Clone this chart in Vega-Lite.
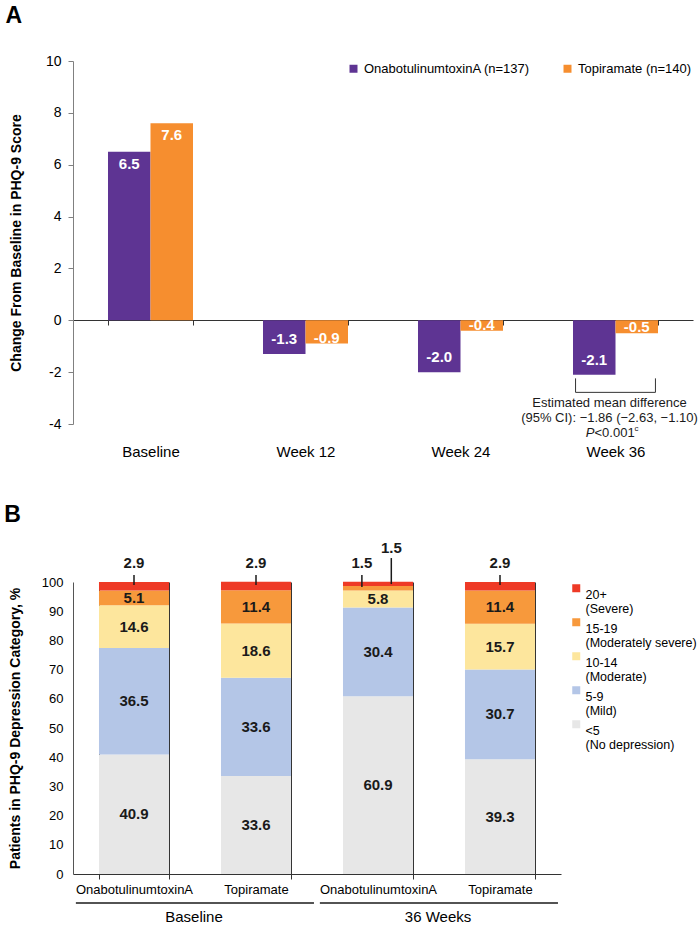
{
  "$schema": "https://vega.github.io/schema/vega-lite/v6.json",
  "padding": {"left": 4, "top": 5, "right": 0, "bottom": 0},
  "background": "white",
  "spacing": 44,
  "resolve": {"scale": {"color": "independent", "x": "independent", "y": "independent"}, "legend": {"color": "independent"}},
  "config": {"font": "Liberation Sans", "view": {"stroke": null}, "axis": {"labelColor": "#000", "titleColor": "#000"}},
  "vconcat": [
    {
      "title": {"text": "A", "anchor": "start", "frame": "bounds", "fontSize": 23, "fontWeight": "bold", "color": "#000", "offset": 26, "dx": -4},
      "width": 620,
      "height": 363,
      "data": {"values": [
        {"week": "Baseline", "trt": "OnabotulinumtoxinA (n=137)", "v": 6.5, "lab": "6.5"},
        {"week": "Baseline", "trt": "Topiramate (n=140)", "v": 7.6, "lab": "7.6"},
        {"week": "Week 12", "trt": "OnabotulinumtoxinA (n=137)", "v": -1.3, "lab": "-1.3"},
        {"week": "Week 12", "trt": "Topiramate (n=140)", "v": -0.9, "lab": "-0.9"},
        {"week": "Week 24", "trt": "OnabotulinumtoxinA (n=137)", "v": -2.0, "lab": "-2.0"},
        {"week": "Week 24", "trt": "Topiramate (n=140)", "v": -0.4, "lab": "-0.4"},
        {"week": "Week 36", "trt": "OnabotulinumtoxinA (n=137)", "v": -2.1, "lab": "-2.1"},
        {"week": "Week 36", "trt": "Topiramate (n=140)", "v": -0.5, "lab": "-0.5"}
      ]},
      "encoding": {
        "x": {"field": "week", "type": "nominal", "title": null,
          "scale": {"domain": ["Baseline", "Week 12", "Week 24", "Week 36"], "paddingInner": 0.4516, "paddingOuter": 0.2258},
          "axis": {"orient": "bottom", "offset": -104, "labelAngle": 0, "labelFontSize": 15, "labelPadding": 119, "tickBand": "extent", "tickSize": 5, "tickColor": "#333", "domainColor": "#333", "grid": false}},
        "y": {"field": "v", "type": "quantitative", "title": "Change From Baseline in PHQ-9 Score",
          "scale": {"domain": [-4, 10], "nice": false, "zero": false},
          "axis": {"values": [-4, -2, 0, 2, 4, 6, 8, 10], "labelExpr": "'' + datum.value", "labelOverlap": false, "titleFontSize": 14, "titleFontWeight": "bold", "titlePadding": 22, "labelFontSize": 14, "labelPadding": 7, "tickSize": 5, "tickColor": "#808080", "domainColor": "#808080", "grid": false}}
      },
      "layer": [
        {
          "mark": {"type": "bar"},
          "encoding": {
            "xOffset": {"field": "trt", "type": "nominal", "scale": {"paddingInner": 0, "paddingOuter": 0}},
            "color": {"field": "trt", "type": "nominal",
              "scale": {"domain": ["OnabotulinumtoxinA (n=137)", "Topiramate (n=140)"], "range": ["#5E3493", "#F68E2F"]},
              "legend": {"title": null, "orient": "top-right", "direction": "horizontal", "offset": 1, "padding": 0, "labelFontSize": 13, "labelColor": "#000", "labelLimit": 300, "symbolType": "square", "symbolSize": 64, "symbolStrokeWidth": 0, "columnPadding": 31, "labelOffset": 4}}
          }
        },
        {
          "transform": [{"filter": "datum.v > 0"}],
          "mark": {"type": "text", "dy": 12, "color": "white", "fontWeight": "bold", "fontSize": 15},
          "encoding": {"xOffset": {"field": "trt", "type": "nominal"}, "text": {"field": "lab"}}
        },
        {
          "transform": [{"filter": "datum.v < 0 && datum.trt == 'OnabotulinumtoxinA (n=137)'"}],
          "mark": {"type": "text", "dy": -15, "color": "white", "fontWeight": "bold", "fontSize": 15},
          "encoding": {"xOffset": {"field": "trt", "type": "nominal"}, "text": {"field": "lab"}}
        },
        {
          "transform": [{"filter": "datum.v < 0 && datum.trt == 'Topiramate (n=140)'"}],
          "mark": {"type": "text", "dy": -6, "color": "white", "fontWeight": "bold", "fontSize": 15},
          "encoding": {"xOffset": {"field": "trt", "type": "nominal"}, "text": {"field": "lab"}}
        },
        {
          "transform": [{"filter": "datum.week == 'Week 36' && datum.trt == 'Topiramate (n=140)'"}],
          "mark": {"type": "rule", "color": "#333", "strokeWidth": 1},
          "encoding": {"x": {"field": "week", "type": "nominal", "bandPosition": 0.03}, "y": {"datum": -2.24}, "y2": {"datum": -2.78}}
        },
        {
          "transform": [{"filter": "datum.week == 'Week 36' && datum.trt == 'Topiramate (n=140)'"}],
          "mark": {"type": "rule", "color": "#333", "strokeWidth": 1},
          "encoding": {"x": {"field": "week", "type": "nominal", "bandPosition": 0.97}, "y": {"datum": -2.24}, "y2": {"datum": -2.78}}
        },
        {
          "transform": [{"filter": "datum.week == 'Week 36' && datum.trt == 'Topiramate (n=140)'"}],
          "mark": {"type": "rule", "color": "#333", "strokeWidth": 1},
          "encoding": {"x": {"field": "week", "type": "nominal", "bandPosition": 0.03}, "x2": {"field": "week", "bandPosition": 0.97}, "y": {"datum": -2.78}}
        },
        {
          "transform": [{"filter": "datum.week == 'Week 36' && datum.trt == 'Topiramate (n=140)'"}],
          "mark": {"type": "text", "fontSize": 13, "color": "#1a1a1a", "dx": -6},
          "encoding": {"y": {"datum": -3.2}, "text": {"value": "Estimated mean difference"}}
        },
        {
          "transform": [{"filter": "datum.week == 'Week 36' && datum.trt == 'Topiramate (n=140)'"}],
          "mark": {"type": "text", "fontSize": 13, "color": "#1a1a1a", "dx": -6},
          "encoding": {"y": {"datum": -3.78}, "text": {"value": "(95% CI): \u22121.86 (\u22122.63, \u22121.10)"}}
        },
        {
          "transform": [{"filter": "datum.week == 'Week 36' && datum.trt == 'Topiramate (n=140)'"}],
          "mark": {"type": "text", "fontSize": 13, "color": "#1a1a1a", "align": "right", "fontStyle": "italic", "dx": -21},
          "encoding": {"y": {"datum": -4.33}, "text": {"value": "P"}}
        },
        {
          "transform": [{"filter": "datum.week == 'Week 36' && datum.trt == 'Topiramate (n=140)'"}],
          "mark": {"type": "text", "fontSize": 13, "color": "#1a1a1a", "align": "left", "dx": -21},
          "encoding": {"y": {"datum": -4.33}, "text": {"value": "<0.001"}}
        },
        {
          "transform": [{"filter": "datum.week == 'Week 36' && datum.trt == 'Topiramate (n=140)'"}],
          "mark": {"type": "text", "fontSize": 8, "color": "#1a1a1a", "align": "left", "dx": 19, "dy": -4},
          "encoding": {"y": {"datum": -4.33}, "text": {"value": "c"}}
        }
      ]
    },
    {
      "title": {"text": "B", "anchor": "start", "frame": "bounds", "fontSize": 23, "fontWeight": "bold", "color": "#000", "offset": 14, "dx": -4},
      "width": 488,
      "height": 292,
      "data": {"values": [
        {"bar": "Baseline|OnabotulinumtoxinA", "period": "Baseline", "cat": "<5", "rank": 1, "v": 40.9},
        {"bar": "Baseline|OnabotulinumtoxinA", "period": "Baseline", "cat": "5-9", "rank": 2, "v": 36.5},
        {"bar": "Baseline|OnabotulinumtoxinA", "period": "Baseline", "cat": "10-14", "rank": 3, "v": 14.6},
        {"bar": "Baseline|OnabotulinumtoxinA", "period": "Baseline", "cat": "15-19", "rank": 4, "v": 5.1},
        {"bar": "Baseline|OnabotulinumtoxinA", "period": "Baseline", "cat": "20+", "rank": 5, "v": 2.9},
        {"bar": "Baseline|Topiramate", "period": "Baseline", "cat": "<5", "rank": 1, "v": 33.6},
        {"bar": "Baseline|Topiramate", "period": "Baseline", "cat": "5-9", "rank": 2, "v": 33.6},
        {"bar": "Baseline|Topiramate", "period": "Baseline", "cat": "10-14", "rank": 3, "v": 18.6},
        {"bar": "Baseline|Topiramate", "period": "Baseline", "cat": "15-19", "rank": 4, "v": 11.4},
        {"bar": "Baseline|Topiramate", "period": "Baseline", "cat": "20+", "rank": 5, "v": 2.9},
        {"bar": "36 Weeks|OnabotulinumtoxinA", "period": "36 Weeks", "cat": "<5", "rank": 1, "v": 60.9},
        {"bar": "36 Weeks|OnabotulinumtoxinA", "period": "36 Weeks", "cat": "5-9", "rank": 2, "v": 30.4},
        {"bar": "36 Weeks|OnabotulinumtoxinA", "period": "36 Weeks", "cat": "10-14", "rank": 3, "v": 5.8},
        {"bar": "36 Weeks|OnabotulinumtoxinA", "period": "36 Weeks", "cat": "15-19", "rank": 4, "v": 1.5},
        {"bar": "36 Weeks|OnabotulinumtoxinA", "period": "36 Weeks", "cat": "20+", "rank": 5, "v": 1.5},
        {"bar": "36 Weeks|Topiramate", "period": "36 Weeks", "cat": "<5", "rank": 1, "v": 39.3},
        {"bar": "36 Weeks|Topiramate", "period": "36 Weeks", "cat": "5-9", "rank": 2, "v": 30.7},
        {"bar": "36 Weeks|Topiramate", "period": "36 Weeks", "cat": "10-14", "rank": 3, "v": 15.7},
        {"bar": "36 Weeks|Topiramate", "period": "36 Weeks", "cat": "15-19", "rank": 4, "v": 11.4},
        {"bar": "36 Weeks|Topiramate", "period": "36 Weeks", "cat": "20+", "rank": 5, "v": 2.9}
      ]},
      "encoding": {
        "x": {"field": "bar", "type": "nominal", "title": null,
          "scale": {"domain": ["Baseline|OnabotulinumtoxinA", "Baseline|Topiramate", "36 Weeks|OnabotulinumtoxinA", "36 Weeks|Topiramate"], "paddingInner": 0.426, "paddingOuter": 0.213},
          "axis": {"labelExpr": "split(datum.label, '|')[1]", "labelAngle": 0, "labelFontSize": 13, "labelPadding": 4, "tickBand": "extent", "tickSize": 5, "tickColor": "#333", "domainColor": "#333", "grid": true, "gridColor": "#333", "gridOpacity": 1}},
        "y": {"field": "v", "type": "quantitative", "stack": "zero", "title": "Patients in PHQ-9 Depression Category, %",
          "scale": {"domain": [0, 100], "nice": false},
          "axis": {"values": [0, 10, 20, 30, 40, 50, 60, 70, 80, 90, 100], "labelOverlap": false, "titleFontSize": 14, "titleFontWeight": "bold", "titlePadding": 19, "labelFontSize": 13, "labelPadding": 10, "ticks": false, "domainColor": "#555", "grid": false}},
        "order": {"field": "rank", "type": "quantitative"}
      },
      "layer": [
        {
          "mark": {"type": "bar"},
          "encoding": {
            "color": {"field": "cat", "type": "nominal",
              "scale": {"domain": ["20+", "15-19", "10-14", "5-9", "<5"], "range": ["#EE3A26", "#F7993C", "#FDE69D", "#B4C6E7", "#E7E7E7"]},
              "legend": {"title": null, "orient": "right", "offset": 9, "padding": 0, "labelFontSize": 12.5, "labelColor": "#000", "labelLimit": 200, "symbolType": "square", "symbolSize": 64, "symbolStrokeWidth": 0, "labelOffset": 3, "rowPadding": 0, "labelBaseline": "middle",
                "labelExpr": "datum.label == '20+' ? ['20+', '(Severe)'] : datum.label == '15-19' ? ['15-19', '(Moderately severe)'] : datum.label == '10-14' ? ['10-14', '(Moderate)'] : datum.label == '5-9' ? ['5-9', '(Mild)'] : ['<5', '(No depression)']",
                "encode": {"labels": {"update": {"dy": {"value": 7}, "lineHeight": {"value": 14}}}}}}
          }
        },
        {
          "transform": [{"filter": "datum.v > 4"}],
          "mark": {"type": "text", "fontWeight": "bold", "fontSize": 15, "color": "#1a1a1a"},
          "encoding": {
            "y": {"field": "v", "type": "quantitative", "stack": "zero", "bandPosition": 0.5},
            "text": {"field": "v", "type": "quantitative", "format": ".1f"}
          }
        },
        {
          "transform": [{"filter": "datum.rank == 5 && datum.v > 2"}],
          "mark": {"type": "rule", "color": "#1a1a1a", "strokeWidth": 1.5},
          "encoding": {"y": {"datum": 102.4}, "y2": {"datum": 99}}
        },
        {
          "transform": [{"filter": "datum.rank == 5 && datum.v > 2"}],
          "mark": {"type": "text", "fontWeight": "bold", "fontSize": 15, "color": "#1a1a1a"},
          "encoding": {"y": {"datum": 106.4}, "text": {"field": "v", "type": "quantitative", "format": ".1f"}}
        },
        {
          "transform": [{"filter": "datum.rank == 4 && datum.v < 2"}],
          "mark": {"type": "rule", "color": "#1a1a1a", "strokeWidth": 1.5},
          "encoding": {"x": {"field": "bar", "type": "nominal", "bandPosition": 0.27}, "y": {"datum": 102.4}, "y2": {"datum": 98.3}}
        },
        {
          "transform": [{"filter": "datum.rank == 4 && datum.v < 2"}],
          "mark": {"type": "text", "fontWeight": "bold", "fontSize": 15, "color": "#1a1a1a"},
          "encoding": {"x": {"field": "bar", "type": "nominal", "bandPosition": 0.27}, "y": {"datum": 106.4}, "text": {"field": "v", "type": "quantitative", "format": ".1f"}}
        },
        {
          "transform": [{"filter": "datum.rank == 5 && datum.v < 2"}],
          "mark": {"type": "rule", "color": "#1a1a1a", "strokeWidth": 1.5},
          "encoding": {"x": {"field": "bar", "type": "nominal", "bandPosition": 0.69}, "y": {"datum": 108.2}, "y2": {"datum": 99.3}}
        },
        {
          "transform": [{"filter": "datum.rank == 5 && datum.v < 2"}],
          "mark": {"type": "text", "fontWeight": "bold", "fontSize": 15, "color": "#1a1a1a"},
          "encoding": {"x": {"field": "bar", "type": "nominal", "bandPosition": 0.69}, "y": {"datum": 111.8}, "text": {"field": "v", "type": "quantitative", "format": ".1f"}}
        },
        {
          "transform": [{"filter": "datum.rank == 1 && (datum.bar == 'Baseline|OnabotulinumtoxinA' || datum.bar == '36 Weeks|OnabotulinumtoxinA')"}],
          "mark": {"type": "rule", "color": "#1a1a1a", "strokeWidth": 1.5},
          "encoding": {"x": {"field": "bar", "type": "nominal", "bandPosition": -0.33}, "x2": {"field": "bar", "bandPosition": 3.07}, "y": {"datum": -9.9}}
        },
        {
          "transform": [{"filter": "datum.rank == 1 && (datum.bar == 'Baseline|OnabotulinumtoxinA' || datum.bar == '36 Weeks|OnabotulinumtoxinA')"}],
          "mark": {"type": "text", "fontSize": 15, "color": "#000"},
          "encoding": {"x": {"field": "bar", "type": "nominal", "bandPosition": 1.357}, "y": {"datum": -14.7}, "text": {"field": "period"}}
        }
      ]
    }
  ]
}
